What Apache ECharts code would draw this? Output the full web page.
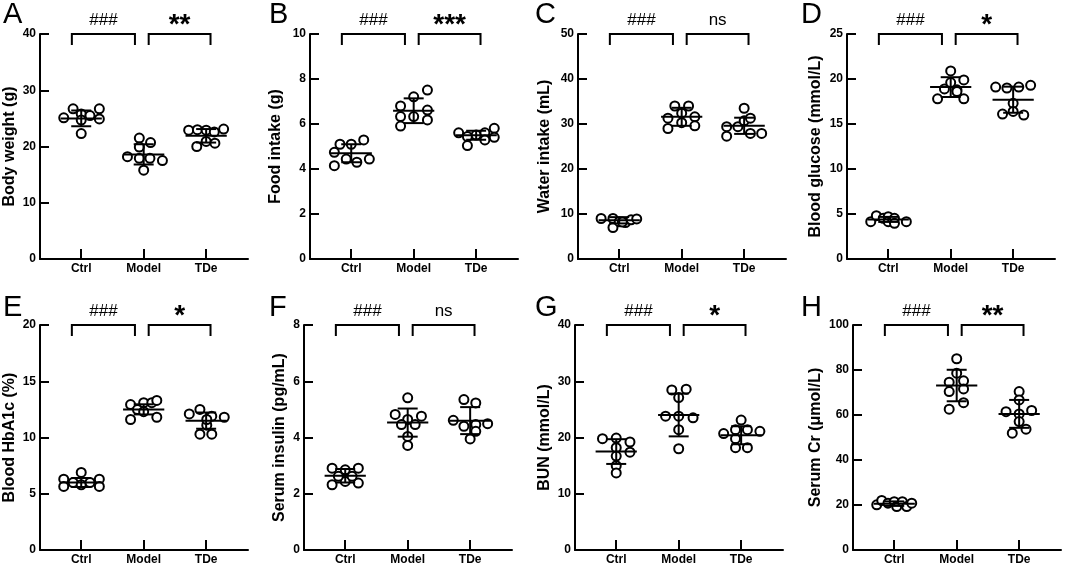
<!DOCTYPE html>
<html>
<head>
<meta charset="utf-8">
<script src="https://cdn.jsdelivr.net/npm/echarts@6/dist/echarts.min.js"></script>
<style>
  html, body { margin: 0; padding: 0; background: #fff; }
  #container { width: 1065px; height: 567px; }
</style>
</head>
<body>
<div id="container"></div>
<script>
// groups on the x axis
var groups = ['Ctrl', 'Model', 'TDe'];
var panelLetters = ['A', 'B', 'C', 'D', 'E', 'F', 'G', 'H'];
var yNames = ['Body weight (g)', 'Food intake (g)', 'Water intake (mL)', 'Blood glucose (mmol/L)',
              'Blood HbA1c (%)', 'Serum insulin (pg/mL)', 'BUN (mmol/L)', 'Serum Cr (\u03bcmol/L)'];
var yMax = [40, 10, 50, 25, 20, 8, 40, 100];
var yStep = [10, 2, 10, 5, 5, 2, 10, 20];

// significance: Ctrl vs Model, Model vs TDe
var comparisons = [[1, 2], [2, 3]];
var sigModel = ['###', '###', '###', '###', '###', '###', '###', '###'];
var sigTDe = ['**', '***', 'ns', '*', '*', 'ns', '*', '**'];

// individual animals (Ctrl, Model, TDe) and their horizontal scatter offsets
var bodyWeight = [
  [25.1, 26.7, 25.8, 24.7, 25.5, 26.7, 24.9, 22.3],
  [21.5, 20.7, 19.9, 18.2, 17.9, 17.9, 17.5, 15.8],
  [22.9, 23.0, 22.9, 22.6, 23.1, 20.0, 20.9, 20.6]
];
var bodyWeightX = [
  [-0.28, -0.13, 0, 0, 0.14, 0.29, 0.29, 0],
  [-0.07, 0.11, -0.07, -0.26, -0.07, 0.1, 0.3, 0],
  [-0.28, -0.14, 0, 0.13, 0.28, -0.15, 0, 0.14]
];
var bodyWeightMean = [25.0, 18.6, 21.9];
var bodyWeightSD = [1.4, 1.8, 1.2];

var foodIntake = [
  [4.74, 4.15, 5.10, 5.10, 5.29, 4.44, 4.30, 4.44],
  [6.80, 6.33, 5.91, 7.21, 6.33, 7.51, 6.62, 6.18],
  [5.61, 5.44, 5.04, 5.51, 5.61, 5.29, 5.81, 5.41]
];
var foodIntakeX = [
  [-0.27, -0.27, -0.18, 0, 0.2, -0.08, 0.09, 0.29],
  [-0.21, -0.21, -0.21, 0, 0, 0.22, 0.22, 0.22],
  [-0.28, -0.14, -0.14, 0, 0.14, 0.14, 0.29, 0.29]
];
var foodIntakeMean = [4.70, 6.59, 5.50];
var foodIntakeSD = [0.40, 0.55, 0.20];

var waterIntake = [
  [9.0, 9.0, 7.0, 8.3, 8.1, 8.7, 8.9, 8.2],
  [31.3, 29.0, 34.0, 32.4, 30.3, 34.0, 31.6, 29.6],
  [29.4, 27.3, 29.4, 33.5, 30.7, 31.3, 27.9, 27.9]
];
var waterIntakeX = [
  [-0.29, -0.1, -0.1, 0, 0.1, 0.19, 0.28, 0.05],
  [-0.22, -0.22, -0.11, 0, 0, 0.11, 0.21, 0.21],
  [-0.28, -0.28, -0.1, 0, 0, 0.1, 0.1, 0.28]
];
var waterIntakeMean = [8.6, 31.6, 29.6];
var waterIntakeSD = [0.7, 2.0, 1.8];

var bloodGlucose = [
  [4.15, 4.81, 4.52, 4.70, 4.15, 4.52, 3.96, 4.15],
  [17.8, 18.9, 20.9, 19.6, 18.8, 19.9, 17.8, 18.6],
  [19.1, 19.0, 19.1, 19.3, 16.1, 17.3, 16.4, 16.0]
];
var bloodGlucoseX = [
  [-0.28, -0.19, -0.08, 0, 0, 0.1, 0.1, 0.29],
  [-0.21, -0.1, 0, 0, 0.1, 0.21, 0.21, 0.1],
  [-0.28, -0.1, 0.09, 0.28, -0.17, 0, 0, 0.17]
];
var bloodGlucoseMean = [4.4, 19.1, 17.7];
var bloodGlucoseSD = [0.28, 1.1, 1.45];

var hba1c = [
  [6.3, 5.65, 6.0, 6.9, 5.8, 6.0, 6.3, 5.65],
  [12.93, 11.6, 12.48, 13.1, 12.3, 13.1, 13.3, 11.8],
  [12.1, 12.5, 11.9, 11.8, 10.3, 10.3, 11.1, 11.6]
];
var hba1cX = [
  [-0.28, -0.28, -0.13, 0, 0, 0.14, 0.29, 0.29],
  [-0.21, -0.21, -0.1, 0, 0, 0.13, 0.21, 0.21],
  [-0.27, -0.1, 0.09, 0.29, -0.1, 0.09, 0.01, 0.01]
];
var hba1cMean = [6.0, 12.5, 11.5];
var hba1cSD = [0.4, 0.45, 0.72];

var insulin = [
  [2.91, 2.32, 2.85, 2.44, 2.91, 2.38, 2.62, 2.62],
  [5.41, 4.82, 4.76, 4.64, 4.46, 4.46, 4.04, 3.72],
  [5.35, 5.23, 4.61, 4.40, 4.46, 4.49, 3.95, 4.22]
];
var insulinX = [
  [-0.21, -0.21, 0, 0, 0.21, 0.21, -0.11, 0.11],
  [0, -0.2, 0.22, 0, -0.1, 0.12, 0, 0],
  [-0.1, 0.09, -0.27, -0.1, 0.09, 0.28, 0, 0.09]
];
var insulinMean = [2.64, 4.53, 4.60];
var insulinSD = [0.24, 0.50, 0.48];

var bun = [
  [19.8, 19.9, 19.2, 17.4, 18.2, 16.7, 15.0, 13.7],
  [28.45, 28.6, 27.1, 23.8, 23.8, 23.5, 21.4, 18.0],
  [20.7, 21.4, 23.1, 21.4, 21.1, 19.8, 18.2, 18.2]
];
var bunX = [
  [-0.22, 0, 0.22, 0.22, 0, 0, 0, 0],
  [-0.11, 0.12, 0, -0.21, 0, 0.23, 0, 0],
  [-0.28, -0.09, 0, 0.1, 0.3, -0.09, -0.09, 0.1]
];
var bunMean = [17.5, 24.0, 20.4];
var bunSD = [2.2, 3.8, 1.6];

var serumCr = [
  [20.1, 22.0, 20.8, 21.5, 19.3, 21.5, 19.3, 20.8],
  [85.0, 78.6, 74.6, 75.2, 70.4, 71.6, 65.5, 62.6],
  [70.4, 66.7, 61.5, 62.0, 60.5, 57.1, 51.9, 53.7]
];
var serumCrX = [
  [-0.28, -0.2, -0.1, 0, 0.04, 0.13, 0.2, 0.28],
  [0, 0, -0.12, 0.11, -0.12, 0.11, 0.11, -0.12],
  [0, 0, -0.21, 0.2, 0, 0, -0.11, 0.11]
];
var serumCrMean = [20.6, 73.1, 60.5];
var serumCrSD = [1.0, 7.0, 6.2];

var values = [bodyWeight, foodIntake, waterIntake, bloodGlucose, hba1c, insulin, bun, serumCr];
var offsets = [bodyWeightX, foodIntakeX, waterIntakeX, bloodGlucoseX, hba1cX, insulinX, bunX, serumCrX];
var means = [bodyWeightMean, foodIntakeMean, waterIntakeMean, bloodGlucoseMean, hba1cMean, insulinMean, bunMean, serumCrMean];
var sds = [bodyWeightSD, foodIntakeSD, waterIntakeSD, bloodGlucoseSD, hba1cSD, insulinSD, bunSD, serumCrSD];

// layout
var FONT = 'Liberation Sans, Arial, Helvetica, sans-serif';
var gridLeft = [40, 310, 578, 847, 40, 304, 575, 853];
var gridTop = [34, 34, 34, 34, 325, 325, 325, 325];
var nameGap = [22, 26, 25, 23, 22, 16, 22, 29];
var letterPos = [[3, 0], [269, 0], [535, 0], [801, 0], [3, 293], [269, 293], [535, 293], [801, 293]];

var dom = document.getElementById('container');
var myChart = echarts.init(dom, null, { renderer: 'canvas' });

var grids = [], xAxes = [], yAxes = [], series = [], titles = [];

function errorBarItem(params, api) {
    var x = api.value(0), m = api.value(1), s = api.value(2);
    var c = api.coord([x, m]);
    var hi = api.coord([x, m + s]);
    var lo = api.coord([x, m - s]);
    var half = api.size([0.33, 0])[0];
    var cap = api.size([0.16, 0])[0];
    var st = { stroke: '#000', lineWidth: 2 };
    return {
        type: 'group',
        children: [
            { type: 'line', shape: { x1: c[0] - half, y1: c[1], x2: c[0] + half, y2: c[1] }, style: st },
            { type: 'line', shape: { x1: c[0], y1: hi[1], x2: c[0], y2: lo[1] }, style: st },
            { type: 'line', shape: { x1: c[0] - cap, y1: hi[1], x2: c[0] + cap, y2: hi[1] }, style: st },
            { type: 'line', shape: { x1: c[0] - cap, y1: lo[1], x2: c[0] + cap, y2: lo[1] }, style: st }
        ]
    };
}

function bracketRenderer(p) {
    return function(params, api) {
        var i = params.dataIndex;
        var a = api.value(0), b = api.value(1);
        // bracket ends sit slightly off the group centres
        var x1 = i === 0 ? a - 0.15 : a + 0.08;
        var x2 = i === 0 ? b - 0.14 : b + 0.07;
        var left = api.coord([x1, yMax[p]]);
        var right = api.coord([x2, yMax[p]]);
        var top = left[1];
        var label = i === 0 ? sigModel[p] : sigTDe[p];
        var star = label.indexOf('*') >= 0;
        return {
            type: 'group',
            children: [
                {
                    type: 'polyline',
                    shape: { points: [[left[0], top + 11], [left[0], top], [right[0], top], [right[0], top + 11]] },
                    style: { stroke: '#000', lineWidth: 2, fill: null }
                },
                {
                    type: 'text',
                    x: (left[0] + right[0]) / 2,
                    y: star ? top - 9 : top - 14,
                    style: {
                        text: label,
                        fill: '#000',
                        align: 'center',
                        verticalAlign: 'middle',
                        fontFamily: FONT,
                        fontSize: star ? 28 : 17,
                        fontWeight: star ? 'bold' : 'normal'
                    }
                }
            ]
        };
    };
}

for (var p = 0; p < 8; p++) {
    grids.push({ left: gridLeft[p], top: gridTop[p], width: 208, height: 225, containLabel: false });
    titles.push({
        text: panelLetters[p], left: letterPos[p][0], top: letterPos[p][1], padding: 0,
        textStyle: { fontFamily: FONT, fontSize: 29, fontWeight: 'normal', color: '#000' }
    });
    xAxes.push({
        type: 'value', gridIndex: p, min: 0.34, max: 3.67,
        axisLine: { show: true, onZero: false, lineStyle: { color: '#000', width: 2 } },
        axisTick: { show: true, inside: true, length: 10, customValues: [1, 2, 3], lineStyle: { color: '#000', width: 2 } },
        axisLabel: {
            show: true, customValues: [1, 2, 3], margin: 4,
            color: '#000', fontFamily: FONT, fontSize: 12, fontWeight: 'bold',
            formatter: function(v) { return groups[Math.round(v) - 1]; }
        },
        splitLine: { show: false }
    });
    yAxes.push({
        type: 'value', gridIndex: p, min: 0, max: yMax[p], interval: yStep[p],
        name: yNames[p], nameLocation: 'middle', nameGap: nameGap[p],
        nameTextStyle: { color: '#000', fontFamily: FONT, fontSize: 16, fontWeight: 'bold' },
        axisLine: { show: true, lineStyle: { color: '#000', width: 2 } },
        axisTick: { show: true, inside: true, length: 9, lineStyle: { color: '#000', width: 2 } },
        axisLabel: { color: '#000', fontFamily: FONT, fontSize: 12, fontWeight: 'bold', margin: 4 },
        splitLine: { show: false }
    });

    var pts = [];
    for (var g = 0; g < 3; g++) {
        for (var k = 0; k < values[p][g].length; k++) {
            pts.push([g + 1 + offsets[p][g][k], values[p][g][k]]);
        }
    }
    series.push({
        type: 'scatter', xAxisIndex: p, yAxisIndex: p, data: pts,
        symbol: 'circle', symbolSize: 9, z: 2,
        itemStyle: { color: '#fff', borderColor: '#000', borderWidth: 2, opacity: 1 }
    });

    var bars = [];
    for (var g2 = 0; g2 < 3; g2++) bars.push([g2 + 1, means[p][g2], sds[p][g2]]);
    series.push({
        type: 'custom', xAxisIndex: p, yAxisIndex: p, data: bars, z: 3,
        renderItem: errorBarItem
    });

    series.push({
        type: 'custom', xAxisIndex: p, yAxisIndex: p, data: comparisons, z: 3, clip: false,
        renderItem: bracketRenderer(p)
    });
}

var option = {
    backgroundColor: '#fff',
    animation: false,
    title: titles,
    grid: grids,
    xAxis: xAxes,
    yAxis: yAxes,
    series: series
};

if (option && typeof option === 'object') {
    myChart.setOption(option, true);
}
</script>
</body>
</html>
